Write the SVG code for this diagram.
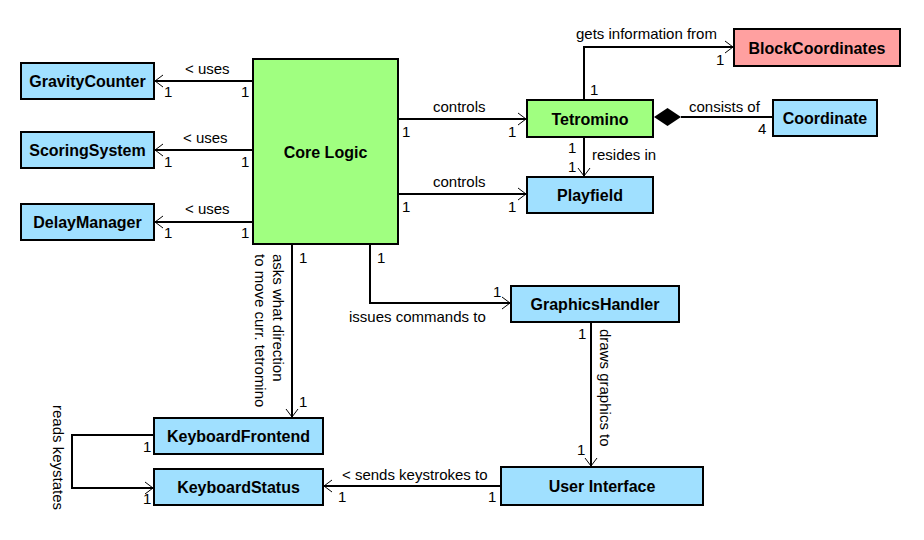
<svg xmlns="http://www.w3.org/2000/svg" width="924" height="540" viewBox="0 0 924 540">
<style>
.box{stroke:#000;stroke-width:2}
.blue{fill:#a0e0ff}
.green{fill:#a0ff80}
.red{fill:#ffa0a0}
.t{font-family:"Liberation Sans",Arial,sans-serif;font-weight:bold;font-size:16px;text-anchor:middle;fill:#000}
.l{font-family:"Liberation Sans",Arial,sans-serif;font-size:15px;fill:#000}
.c{fill:none;stroke:#000;stroke-width:2}
</style>
<defs>
<marker id="arr" viewBox="0 0 10 14" refX="9" refY="7" markerWidth="10" markerHeight="14" markerUnits="userSpaceOnUse" orient="auto">
<path d="M1,1 L9,7 L1,13" fill="none" stroke="#000" stroke-width="1"/>
</marker>
</defs>
<rect width="924" height="540" fill="#fff"/>
<g id="connectors">
<path class="c" d="M253,81 H155" marker-end="url(#arr)"/>
<path class="c" d="M253,150 H155" marker-end="url(#arr)"/>
<path class="c" d="M253,222 H155" marker-end="url(#arr)"/>
<path class="c" d="M398,119 H526" marker-end="url(#arr)"/>
<path class="c" d="M398,194 H526" marker-end="url(#arr)"/>
<path class="c" d="M584,100 V47 H733" marker-end="url(#arr)"/>
<path class="c" d="M584,137 V176" marker-end="url(#arr)"/>
<path class="c" d="M681,117 H773"/>
<polygon points="654,117 667.5,108 681,117 667.5,126" fill="#000"/>
<path class="c" d="M292,244 V417" marker-end="url(#arr)"/>
<path class="c" d="M370,244 V303 H510" marker-end="url(#arr)"/>
<path class="c" d="M591,322 V466" marker-end="url(#arr)"/>
<path class="c" d="M501,486 H324" marker-end="url(#arr)"/>
<path class="c" d="M154,435 H72 V488 H153" marker-end="url(#arr)"/>
<text class="l" x="185" y="74">&lt; uses</text>
<text class="l" x="183" y="143">&lt; uses</text>
<text class="l" x="185" y="214">&lt; uses</text>
<text class="l" x="164" y="97">1</text>
<text class="l" x="241" y="97">1</text>
<text class="l" x="164" y="167">1</text>
<text class="l" x="241" y="167">1</text>
<text class="l" x="164" y="238">1</text>
<text class="l" x="241" y="238">1</text>
<text class="l" x="433" y="112">controls</text>
<text class="l" x="402" y="137">1</text>
<text class="l" x="508" y="137">1</text>
<text class="l" x="433" y="187">controls</text>
<text class="l" x="402" y="212">1</text>
<text class="l" x="508" y="212">1</text>
<text class="l" x="576" y="39">gets information from</text>
<text class="l" x="716" y="65">1</text>
<text class="l" x="590" y="95">1</text>
<text class="l" x="689" y="112">consists of</text>
<text class="l" x="758" y="134">4</text>
<text class="l" x="568" y="153">1</text>
<text class="l" x="568" y="172">1</text>
<text class="l" x="592" y="160">resides in</text>
<text class="l" x="299" y="263">1</text>
<text class="l" x="377" y="263">1</text>
<text class="l" x="493" y="297">1</text>
<text class="l" x="349" y="322">issues commands to</text>
<text class="l" x="578" y="339">1</text>
<text class="l" x="299" y="407">1</text>
<text class="l" x="577" y="455">1</text>
<text class="l" x="342" y="480">&lt; sends keystrokes to</text>
<text class="l" x="338" y="502">1</text>
<text class="l" x="488" y="502">1</text>
<text class="l" x="143" y="452">1</text>
<text class="l" x="143" y="504">1</text>
<text class="l" transform="translate(272.5,254) rotate(90)">asks what direction</text>
<text class="l" transform="translate(255,254) rotate(90)">to move curr. tetromino</text>
<text class="l" transform="translate(599.5,329) rotate(90)">draws graphics to</text>
<text class="l" transform="translate(53,405) rotate(90)">reads keystates</text>
</g>
<g id="core-logic"><rect class="box green" x="253" y="59" width="145" height="185"/><text class="t" x="325.5" y="157.5">Core Logic</text></g>
<g id="gravity-counter"><rect class="box blue" x="21" y="63" width="133" height="36"/><text class="t" x="87.5" y="87">GravityCounter</text></g>
<g id="scoring-system"><rect class="box blue" x="21" y="132" width="133" height="36"/><text class="t" x="87.5" y="156">ScoringSystem</text></g>
<g id="delay-manager"><rect class="box blue" x="21" y="204" width="133" height="36"/><text class="t" x="87.5" y="228">DelayManager</text></g>
<g id="block-coordinates"><rect class="box red" x="734" y="29" width="166" height="37"/><text class="t" x="817" y="53.5">BlockCoordinates</text></g>
<g id="tetromino"><rect class="box green" x="527" y="100" width="126" height="37"/><text class="t" x="590" y="124.5">Tetromino</text></g>
<g id="coordinate"><rect class="box blue" x="773" y="100" width="104" height="36"/><text class="t" x="825" y="124">Coordinate</text></g>
<g id="playfield"><rect class="box blue" x="527" y="177" width="126" height="36"/><text class="t" x="590" y="201">Playfield</text></g>
<g id="graphics-handler"><rect class="box blue" x="511" y="286" width="168" height="36"/><text class="t" x="595" y="310">GraphicsHandler</text></g>
<g id="keyboard-frontend"><rect class="box blue" x="154" y="418" width="169" height="36"/><text class="t" x="238.5" y="442">KeyboardFrontend</text></g>
<g id="keyboard-status"><rect class="box blue" x="154" y="469" width="169" height="36"/><text class="t" x="238.5" y="493">KeyboardStatus</text></g>
<g id="user-interface"><rect class="box blue" x="501" y="467" width="202" height="38"/><text class="t" x="602" y="492">User Interface</text></g>
</svg>
